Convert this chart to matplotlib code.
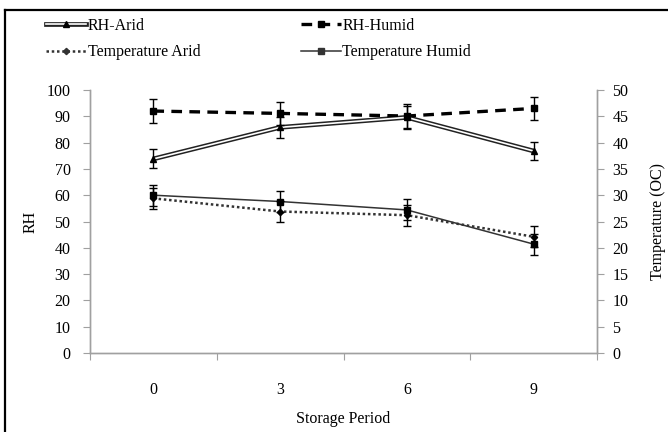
import matplotlib
matplotlib.use("Agg")
import matplotlib.pyplot as plt
from matplotlib.lines import Line2D
from matplotlib.legend_handler import HandlerTuple
import numpy as np

plt.rcParams['font.family'] = ['Liberation Serif', 'DejaVu Serif']
plt.rcParams['font.size'] = 11.5

# data
periods = ["0", "3", "6", "9"]
rh_arid = [73.8, 85.8, 89.6, 76.8]
rh_arid_err = [3.6, 4.1, 4.4, 3.6]
rh_humid = [92.0, 91.1, 90.1, 93.0]
rh_humid_err = [4.4, 4.3, 4.5, 4.5]
temp_arid = [29.4, 26.9, 26.2, 22.1]
temp_arid_err = [2.0, 2.0, 2.0, 2.0]
temp_humid = [30.0, 28.8, 27.2, 20.7]
temp_humid_err = [2.0, 2.0, 2.0, 2.0]

W, H = 668, 432
fig = plt.figure(figsize=(W / 100, H / 100), dpi=100)
ax = fig.add_axes([90 / W, 1 - 353 / H, (597 - 90) / W, (353 - 90) / H])
ax2 = ax.twinx()

x = np.arange(len(periods))
grey = '#a0a0a0'
eb = dict(ecolor='black', elinewidth=1, capsize=3, capthick=1, zorder=5)

# RH-Arid: double line (black outer, white centre)
ax.plot(x, rh_arid, color='#222222', lw=3.4, solid_capstyle='butt', zorder=3)
ax.plot(x, rh_arid, color='white', lw=1.2, solid_capstyle='butt', zorder=4)
ax.errorbar(x, rh_arid, yerr=rh_arid_err, fmt='^', color='black', ms=4.5, **eb)

# RH-Humid: thick dashed
ax.plot(x, rh_humid, color='black', lw=2.4, dashes=(3.2, 2.2), zorder=3)
ax.errorbar(x, rh_humid, yerr=rh_humid_err, fmt='s', color='black', ms=5, **eb)

# temperatures on the secondary axis
ax2.plot(x, temp_arid, color='#333333', lw=1.8, dashes=(1, 1.1), zorder=3)
ax2.errorbar(x, temp_arid, yerr=temp_arid_err, fmt='D', color='black', ms=3.2, **eb)
ax2.plot(x, temp_humid, color='#333333', lw=1.1, zorder=3)
ax2.errorbar(x, temp_humid, yerr=temp_humid_err, fmt='s', color='black', ms=4.5, **eb)

ax.set_xlim(-0.5, len(periods) - 0.5)
ax.set_ylim(0, 100)
ax2.set_ylim(0, 50)
ax.set_yticks(np.arange(0, 101, 10))
ax2.set_yticks(np.arange(0, 51, 5))

# category axis: tick marks at boundaries, labels at centres
ax.set_xticks(np.arange(-0.5, len(periods), 1))
ax.set_xticklabels([])
ax.set_xticks(x, minor=True)
ax.set_xticklabels(periods, minor=True)
ax.tick_params(axis='x', which='major', length=5, color=grey, direction='out')
ax.tick_params(axis='x', which='minor', length=0, pad=21)
ax.tick_params(axis='y', length=5, color=grey, pad=9)
ax2.tick_params(axis='y', length=5, color=grey, pad=6)

for a in (ax, ax2):
    a.spines['top'].set_visible(False)
    for s in ('left', 'right', 'bottom'):
        a.spines[s].set_color(grey)
        a.spines[s].set_linewidth(1)

ax.set_ylabel("RH", labelpad=6)
ax2.set_ylabel("Temperature (OC)", labelpad=16)
ax.set_xlabel("Storage Period", labelpad=9)

# legend
h_arid = (Line2D([], [], color='#222222', lw=3.4),
          Line2D([], [], color='white', lw=1.2),
          Line2D([], [], ls='none', marker='^', color='black', ms=4.5))
h_humid = Line2D([], [], color='black', lw=2.4, dashes=(3.2, 2.2),
                 marker='s', ms=5)
h_tarid = Line2D([], [], color='#333333', lw=1.8, dashes=(1, 1.1),
                 marker='D', ms=3.2)
h_thumid = Line2D([], [], color='#333333', lw=1.1, marker='s', ms=4.5)
fig.legend([h_arid, h_tarid, h_humid, h_thumid],
           ["RH-Arid", "Temperature Arid", "RH-Humid", "Temperature Humid"],
           handler_map={tuple: HandlerTuple(ndivide=1, pad=0)},
           ncol=2, frameon=False, loc='upper left',
           bbox_to_anchor=(46 / W, 1 - 18 / H), handlelength=2.5,
           handletextpad=0.1, columnspacing=6.3, labelspacing=0.65,
           borderaxespad=0, borderpad=0)

# outer chart border (only top and left fall inside the picture)
fig.add_artist(Line2D([5 / W, 5 / W], [0, 1 - 10 / H], color='black', lw=1.6,
                      transform=fig.transFigure))
fig.add_artist(Line2D([5 / W, 1], [1 - 10 / H, 1 - 10 / H], color='black',
                      lw=1.6, transform=fig.transFigure))

fig.savefig("out.png", dpi=100)
